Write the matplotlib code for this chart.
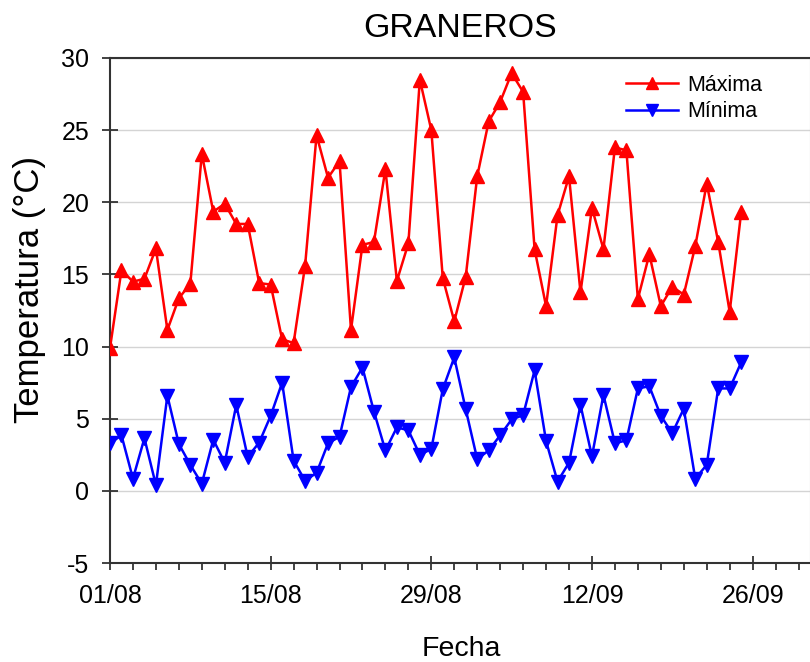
import pandas as pd
import numpy as np
import matplotlib
matplotlib.use('Agg')
import matplotlib.pyplot as plt
import matplotlib.dates as mdates

plt.rcParams['font.family'] = ['Liberation Sans', 'DejaVu Sans']
plt.rcParams['axes.unicode_minus'] = False

# Daily temperatures, 01/08 to 25/09
start_date = '2015-08-01'
maxima = [9.9, 15.3, 14.5, 14.7, 16.8, 11.15, 13.35, 14.35, 23.35, 19.35,
          19.9, 18.5, 18.5, 14.4, 14.3, 10.5, 10.25, 15.6, 24.65, 21.7,
          22.85, 11.15, 17.05, 17.25, 22.3, 14.55, 17.15, 28.5, 25.0, 14.75,
          11.75, 14.85, 21.8, 25.6, 26.95, 28.95, 27.65, 16.75, 12.8, 19.1,
          21.8, 13.75, 19.6, 16.75, 23.8, 23.6, 13.3, 16.4, 12.8, 14.15,
          13.6, 16.95, 21.3, 17.25, 12.4, 19.3]
minima = [3.3, 3.85, 0.85, 3.65, 0.4, 6.6, 3.25, 1.8, 0.5, 3.55,
          1.95, 5.95, 2.35, 3.35, 5.2, 7.5, 2.1, 0.7, 1.25, 3.3,
          3.75, 7.2, 8.55, 5.5, 2.8, 4.4, 4.2, 2.5, 2.9, 7.05,
          9.25, 5.65, 2.2, 2.8, 3.85, 4.95, 5.25, 8.35, 3.45, 0.65,
          1.95, 5.95, 2.4, 6.65, 3.3, 3.5, 7.1, 7.25, 5.2, 4.0,
          5.7, 0.85, 1.8, 7.1, 7.1, 8.9]

dates = pd.date_range(start_date, periods=len(maxima), freq='D')
major_dates = pd.date_range(start_date, periods=5, freq='14D')
minor_dates = pd.date_range(start_date, '2015-10-01', freq='2D')
y_ticks = [-5, 0, 5, 10, 15, 20, 25, 30]

fig = plt.figure(figsize=(8.1, 6.62), dpi=100)
ax = fig.add_axes([0.1358, 0.1495, 0.8642, 0.7629])

ax.plot(dates, maxima, color='#ff0000', linewidth=1.8, marker='^',
        markersize=9.5, label='Máxima', zorder=3)
ax.plot(dates, minima, color='#0000ff', linewidth=1.8, marker='v',
        markersize=9.5, label='Mínima', zorder=3)

ax.set_xlim(pd.Timestamp(start_date), pd.Timestamp('2015-10-01'))
ax.set_ylim(-5, 30)
ax.set_yticks(y_ticks)
ax.yaxis.grid(True, color='#d4d4d4', linewidth=1.0)
ax.set_axisbelow(True)

ax.set_xticks(major_dates)
ax.set_xticks(minor_dates, minor=True)
ax.xaxis.set_major_formatter(mdates.DateFormatter('%d/%m'))

ax.tick_params(axis='y', which='major', direction='inout', length=12,
               width=1.2, labelsize=18, pad=9, colors='#222222', labelcolor='black')
ax.tick_params(axis='x', which='major', direction='inout', length=10,
               width=1.2, labelsize=18, pad=10, colors='#222222', labelcolor='black')
ax.tick_params(axis='x', which='minor', direction='out', length=5,
               width=1.2, colors='#222222')

for side in ['left', 'bottom', 'top']:
    ax.spines[side].set_color('#333333')
    ax.spines[side].set_linewidth(1.5)
ax.spines['right'].set_color('#bbbbbb')

fig.text(0.568, 0.9577, 'GRANEROS', fontsize=24.4, ha='center', va='center')
fig.text(0.036, 0.562, 'Temperatura (°C)', fontsize=25, rotation=90,
         ha='center', va='center')
fig.text(0.569, 0.019, 'Fecha', fontsize=20.5, ha='center', va='center')

ax.legend(loc='upper left', bbox_to_anchor=(0.71, 1.005), frameon=False,
          fontsize=15.5, handlelength=2.4, handletextpad=0.45,
          labelspacing=0.25, markerscale=0.95)

fig.savefig('out.png', dpi=100)
